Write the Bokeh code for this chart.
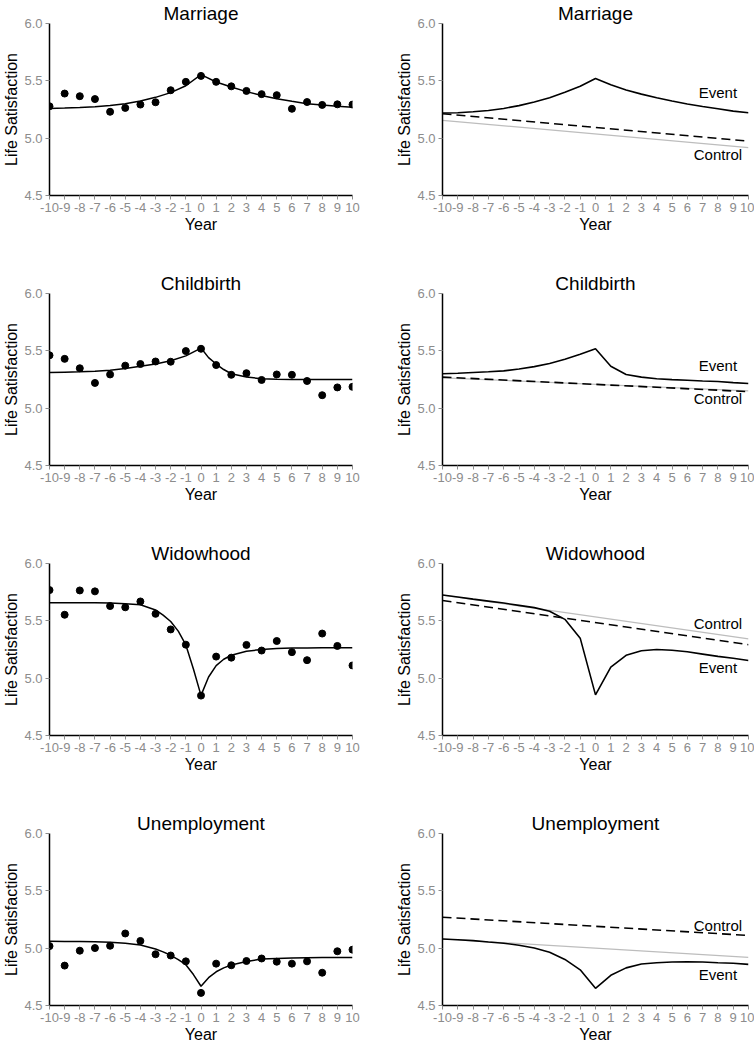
from bokeh.plotting import figure
from bokeh.layouts import gridplot
from bokeh.models import FixedTicker, Range1d
from bokeh.core.properties import value
from bokeh.embed import file_html
from bokeh.resources import INLINE

FONT = "Liberation Sans"

# ---------------- data ----------------
years = list(range(-10, 11))
year_ticks = list(range(-10, 11))
ls_ticks = [4.5, 5.0, 5.5, 6.0]
events = ["Marriage", "Childbirth", "Widowhood", "Unemployment"]

# observed means (left panels)
marriage_obs = [5.278, 5.389, 5.366, 5.341, 5.230, 5.264, 5.293, 5.313, 5.418, 5.491, 5.543,
                5.491, 5.452, 5.412, 5.384, 5.375, 5.256, 5.315, 5.290, 5.295, 5.293]
childbirth_obs = [5.461, 5.430, 5.348, 5.220, 5.294, 5.371, 5.385, 5.407, 5.405, 5.498, 5.518,
                  5.376, 5.291, 5.305, 5.246, 5.294, 5.291, 5.237, 5.113, 5.181, 5.186]
widowhood_obs = [5.768, 5.553, 5.765, 5.757, 5.629, 5.618, 5.669, 5.561, 5.425, 5.292, 4.848,
                 5.188, 5.179, 5.290, 5.241, 5.324, 5.227, 5.157, 5.389, 5.281, 5.111]
unemployment_obs = [5.018, 4.848, 4.978, 5.001, 5.021, 5.128, 5.063, 4.947, 4.936, 4.885, 4.610,
                    4.865, 4.851, 4.888, 4.910, 4.882, 4.865, 4.885, 4.786, 4.973, 4.987]

# fitted curves (left panels)
marriage_fit_years = list(range(-10, 11))
marriage_fit = [5.259, 5.262, 5.267, 5.274, 5.285, 5.300, 5.325, 5.356, 5.397, 5.457, 5.554,
                5.490, 5.446, 5.406, 5.372, 5.344, 5.321, 5.301, 5.290, 5.278, 5.270]
childbirth_fit_years = [-10, -9, -8, -7, -6, -5, -4, -3, -2, -1, 0, 0.5, 1, 1.5, 2,
                        3, 4, 5, 6, 7, 8, 9, 10]
childbirth_fit = [5.311, 5.314, 5.317, 5.322, 5.331, 5.345, 5.365, 5.385, 5.413, 5.456, 5.524,
                  5.441, 5.385, 5.337, 5.300, 5.271, 5.257, 5.252, 5.250, 5.250, 5.250, 5.250, 5.250]
widowhood_fit_years = [-10, -9, -8, -7, -6, -5, -4, -3, -2.5, -2, -1.5, -1, -0.5, 0, 0.5, 1, 1.5,
                       2, 3, 4, 5, 6, 7, 8, 9, 10]
widowhood_fit = [5.658, 5.658, 5.658, 5.657, 5.655, 5.650, 5.640, 5.595, 5.550, 5.494, 5.410,
                 5.290, 5.080, 4.850, 5.010, 5.110, 5.165, 5.200, 5.235, 5.250, 5.258, 5.262,
                 5.264, 5.265, 5.265, 5.265]
unemployment_fit_years = [-10, -9, -8, -7, -6, -5, -4, -3, -2.5, -2, -1.5, -1, -0.5, 0, 0.5, 1,
                          1.5, 2, 3, 4, 5, 6, 7, 8, 9, 10]
unemployment_fit = [5.060, 5.059, 5.058, 5.056, 5.052, 5.042, 5.028, 4.993, 4.968, 4.938, 4.900,
                    4.856, 4.770, 4.668, 4.743, 4.794, 4.828, 4.853, 4.884, 4.905, 4.910, 4.914,
                    4.917, 4.918, 4.919, 4.919]

# model trajectories (right panels)
marriage_event = [5.219, 5.222, 5.230, 5.241, 5.259, 5.284, 5.315, 5.352, 5.400, 5.452, 5.520,
                  5.466, 5.420, 5.384, 5.352, 5.324, 5.298, 5.276, 5.256, 5.236, 5.222]
childbirth_event = [5.300, 5.305, 5.311, 5.317, 5.325, 5.342, 5.362, 5.390, 5.427, 5.470, 5.518,
                    5.365, 5.294, 5.271, 5.257, 5.249, 5.243, 5.237, 5.232, 5.223, 5.215]
widowhood_event = [5.725, 5.708, 5.689, 5.672, 5.655, 5.635, 5.615, 5.584, 5.513, 5.349, 4.854,
                   5.097, 5.199, 5.239, 5.250, 5.244, 5.230, 5.210, 5.190, 5.174, 5.154]
unemployment_event = [5.080, 5.074, 5.066, 5.054, 5.043, 5.026, 5.001, 4.964, 4.902, 4.811, 4.650,
                      4.763, 4.828, 4.862, 4.873, 4.879, 4.882, 4.879, 4.873, 4.868, 4.859]

trend_years = [-10, 10]
marriage_control = [5.213, 4.974]
childbirth_control = [5.271, 5.144]
widowhood_control = [5.677, 5.292]
unemployment_control = [5.270, 5.111]

marriage_baseline = [5.156, 4.918]
childbirth_baseline = [5.265, 5.150]
widowhood_baseline = [5.725, 5.343]
unemployment_baseline = [5.080, 4.919]

# series-label anchors (right panels)
label_year = 8.0
event_label_y = [5.395, 5.371, 5.090, 4.769]
control_label_y = [4.855, 5.081, 5.479, 5.202]

obs_list = [marriage_obs, childbirth_obs, widowhood_obs, unemployment_obs]
fit_x_list = [marriage_fit_years, childbirth_fit_years, widowhood_fit_years, unemployment_fit_years]
fit_list = [marriage_fit, childbirth_fit, widowhood_fit, unemployment_fit]
event_list = [marriage_event, childbirth_event, widowhood_event, unemployment_event]
control_list = [marriage_control, childbirth_control, widowhood_control, unemployment_control]
baseline_list = [marriage_baseline, childbirth_baseline, widowhood_baseline, unemployment_baseline]

# ---------------- styling ----------------
GRAY = "#8c8c8c"
ROW_H = [270, 270, 270, 239]
TOP = 23
FRAME_H = 172
LEFT_W, RIGHT_W = 377, 377


def base_fig(title, width, height, left, right):
    p = figure(width=width, height=height,
               x_range=Range1d(-10, 10), y_range=Range1d(4.5, 6.0),
               output_backend="svg", toolbar_location=None,
               min_border_left=left, min_border_right=right,
               min_border_top=TOP, min_border_bottom=height - TOP - FRAME_H,
               x_axis_label="Year", y_axis_label="Life Satisfaction")
    p.title.text = title
    p.title.align = "center"
    p.title.offset = -14
    p.title.text_font = FONT
    p.title.text_font_size = "19px"
    p.title.text_font_style = "normal"
    p.title.text_color = "black"
    p.title.standoff = 0
    p.grid.visible = False
    p.outline_line_color = None
    p.background_fill_color = "white"
    p.border_fill_color = "white"
    for ax in p.axis:
        ax.axis_line_color = "black"
        ax.axis_line_width = 1.5
        ax.major_tick_line_color = GRAY
        ax.major_tick_line_width = 1
        ax.major_tick_in = 0
        ax.major_tick_out = 4
        ax.minor_tick_line_color = None
        ax.major_label_text_color = GRAY
        ax.major_label_text_font = FONT
        ax.major_label_text_font_size = "13px"
        ax.axis_label_text_font = FONT
        ax.axis_label_text_font_size = "16px"
        ax.axis_label_text_font_style = "normal"
        ax.axis_label_text_color = "black"
        ax.axis_label_standoff = 1
    p.xaxis.major_label_standoff = 3
    p.yaxis.major_label_standoff = 3
    p.xaxis.ticker = FixedTicker(ticks=year_ticks)
    p.yaxis.ticker = FixedTicker(ticks=ls_ticks)
    p.xaxis.major_label_overrides = {t: str(t) for t in year_ticks}
    p.yaxis.major_label_overrides = {t: "%.1f" % t for t in ls_ticks}
    return p


rows = []
for i, name in enumerate(events):
    h = ROW_H[i]
    # left: observed + fitted
    pl = base_fig(name, LEFT_W, h, 45, 25)
    pl.line(fit_x_list[i], fit_list[i], line_color="black", line_width=1.5)
    pl.scatter(years, obs_list[i], size=7, fill_color="black", line_color="black")

    # right: event / control trajectories
    pr = base_fig(name, RIGHT_W, h, 65, 6)
    pr.line(trend_years, baseline_list[i], line_color="#bdbdbd", line_width=1.2)
    pr.line(trend_years, control_list[i], line_color="black", line_width=1.6,
            line_dash="9 5")
    pr.line(years, event_list[i], line_color="black", line_width=1.6)
    pr.text(x=[label_year], y=[event_label_y[i]], text=["Event"],
            text_font=value(FONT), text_font_size="15px", text_color="black",
            text_align="center", text_baseline="middle")
    pr.text(x=[label_year], y=[control_label_y[i]], text=["Control"],
            text_font=value(FONT), text_font_size="15px", text_color="black",
            text_align="center", text_baseline="middle")
    rows.append([pl, pr])

grid = gridplot(rows, toolbar_location=None)

open("out.html", "w").write(file_html(grid, INLINE))
